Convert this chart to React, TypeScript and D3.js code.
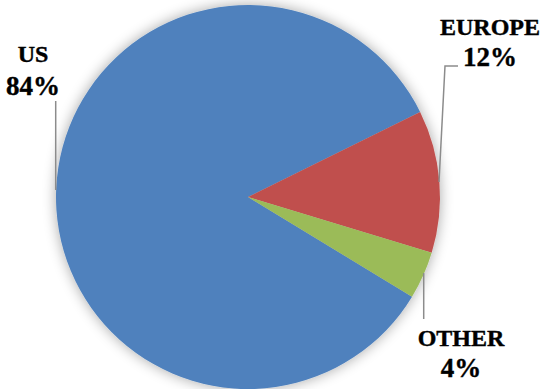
import React from "react";
import * as d3 from "d3";

const categories = ["US", "EUROPE", "OTHER"];
const values = [84, 12, 4];
const colors = ["#4F81BD", "#C0504D", "#9BBB59"];

const W = 540;
const H = 389;
const cx = 248;
const cy = 197;
const R = 192;
const startDeg = 121.3;

// label layout: centre x, baselines of name and percent lines
const labelPos = [
  { x: 33, y1: 62, y2: 95 },
  { x: 490, y1: 35, y2: 66 },
  { x: 461, y1: 346, y2: 377 },
];
const leaders = [
  [[55.7, 101], [55.7, 190]],
  [[458, 66], [445, 66], [439, 182]],
  [[423.7, 273], [423.7, 319]],
];

export default function App() {
  const pie = d3
    .pie<number>()
    .sort(null)
    .value((d) => d)
    .startAngle((startDeg * Math.PI) / 180)
    .endAngle(((startDeg + 360) * Math.PI) / 180);
  const arcs = pie(values);
  const arcGen = d3.arc<d3.PieArcDatum<number>>().innerRadius(0).outerRadius(R);
  const total = d3.sum(values);
  const line = d3.line();

  return (
    <svg
      width={W}
      height={H}
      style={{ position: "absolute", left: 0, top: 0, background: "#fff" }}
    >
      <defs>
        <filter id="glow" x="-20%" y="-20%" width="140%" height="140%">
          <feGaussianBlur in="SourceAlpha" stdDeviation="7" />
          <feComponentTransfer>
            <feFuncA type="linear" slope="0.35" />
          </feComponentTransfer>
          <feMerge>
            <feMergeNode />
            <feMergeNode in="SourceGraphic" />
          </feMerge>
        </filter>
      </defs>
      <g transform={`translate(${cx},${cy})`} filter="url(#glow)">
        {arcs.map((a, i) => (
          <path key={i} d={arcGen(a) || ""} fill={colors[i]} />
        ))}
      </g>
      {leaders.map((pts, i) => (
        <path
          key={i}
          d={line(pts as [number, number][]) || ""}
          fill="none"
          stroke="#8c8c8c"
          strokeWidth={1.5}
        />
      ))}
      {categories.map((c, i) => (
        <g
          key={c}
          fontFamily="'Liberation Serif', serif"
          fontWeight="bold"
          fill="#000"
          stroke="#000"
          strokeWidth={0.4}
          textAnchor="middle"
        >
          <text x={labelPos[i].x} y={labelPos[i].y1} fontSize={24}>
            {c}
          </text>
          <text x={labelPos[i].x} y={labelPos[i].y2} fontSize={27}>
            {Math.round((values[i] / total) * 100)}%
          </text>
        </g>
      ))}
    </svg>
  );
}
